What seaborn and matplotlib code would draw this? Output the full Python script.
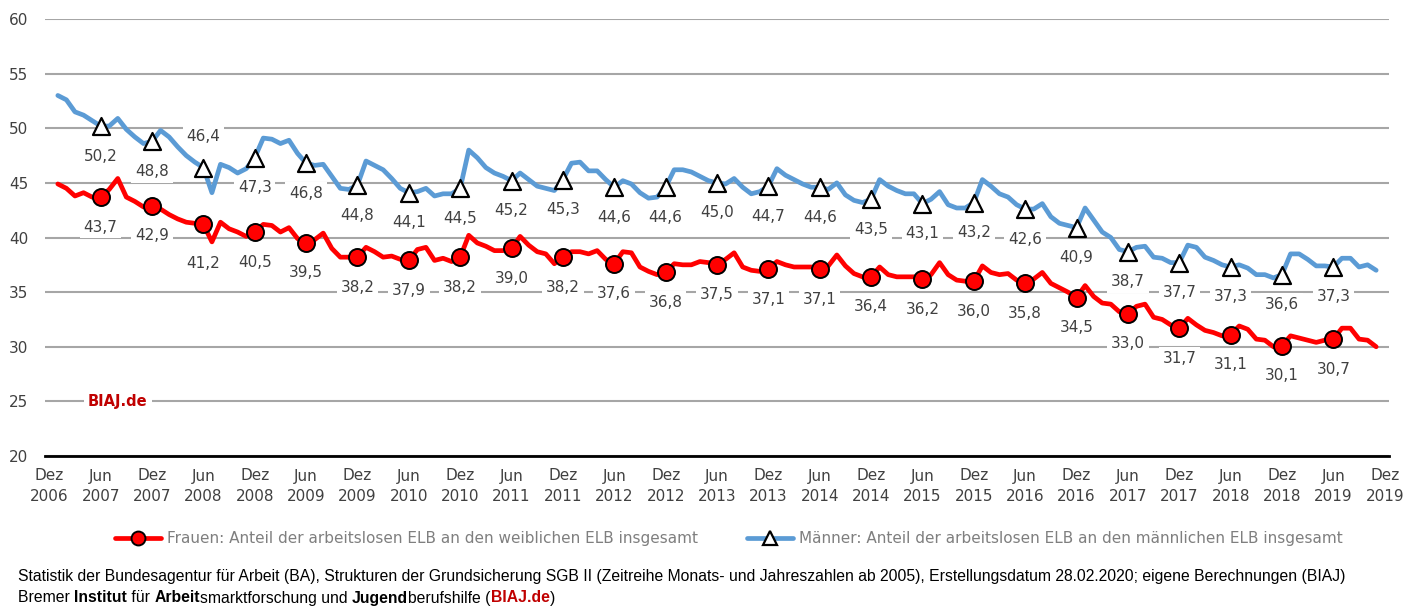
import numpy as np
import pandas as pd
import matplotlib
matplotlib.use("Agg")
import matplotlib.pyplot as plt
from matplotlib.lines import Line2D
from matplotlib.transforms import IdentityTransform
import seaborn as sns

# Monatswerte Jan 2007 .. Nov 2019 (Anteil in %)
frauen = [
    44.9, 44.5, 43.8, 44.1, 43.7, 43.7, 44.4, 45.4, 43.7, 43.3, 42.8, 42.9,
    42.6, 42.1, 41.7, 41.4, 41.3, 41.2, 39.6, 41.4, 40.8, 40.5, 40.1, 40.5,
    41.2, 41.1, 40.5, 40.9, 39.9, 39.5, 39.8, 40.4, 39.0, 38.2, 38.2, 38.2,
    39.1, 38.7, 38.2, 38.3, 38.0, 37.9, 38.9, 39.1, 37.9, 38.1, 37.8, 38.2,
    40.2, 39.5, 39.2, 38.8, 38.8, 39.0, 40.1, 39.3, 38.7, 38.5, 37.6, 38.2,
    38.7, 38.7, 38.5, 38.8, 38.0, 37.6, 38.7, 38.6, 37.3, 36.9, 36.6, 36.8,
    37.6, 37.5, 37.5, 37.8, 37.7, 37.5, 38.0, 38.6, 37.3, 37.0, 36.9, 37.1,
    37.8, 37.5, 37.3, 37.3, 37.3, 37.1, 37.4, 38.4, 37.4, 36.7, 36.4, 36.4,
    37.3, 36.6, 36.4, 36.4, 36.4, 36.2, 36.6, 37.7, 36.6, 36.1, 36.0, 36.0,
    37.4, 36.8, 36.6, 36.7, 36.1, 35.8, 36.2, 36.8, 35.8, 35.4, 35.0, 34.5,
    35.6, 34.6, 34.0, 33.9, 33.2, 33.0, 33.7, 33.9, 32.7, 32.5, 32.0, 31.7,
    32.6, 32.0, 31.5, 31.3, 31.0, 31.1, 31.9, 31.6, 30.7, 30.6, 30.0, 30.1,
    31.0, 30.8, 30.6, 30.4, 30.6, 30.7, 31.7, 31.7, 30.7, 30.6, 30.0,
]
maenner = [
    53.0, 52.6, 51.5, 51.2, 50.7, 50.2, 50.2, 50.9, 49.9, 49.2, 48.6, 48.8,
    49.8, 49.2, 48.3, 47.5, 46.9, 46.4, 44.1, 46.7, 46.4, 45.9, 46.3, 47.3,
    49.1, 49.0, 48.6, 48.9, 47.7, 46.8, 46.6, 46.7, 45.6, 44.5, 44.4, 44.8,
    47.0, 46.6, 46.2, 45.4, 44.5, 44.1, 44.2, 44.5, 43.8, 44.0, 44.0, 44.5,
    48.0, 47.3, 46.4, 45.9, 45.6, 45.2, 45.9, 45.3, 44.7, 44.5, 44.3, 45.3,
    46.8, 46.9, 46.1, 46.1, 45.3, 44.6, 45.2, 44.9, 44.1, 43.6, 43.7, 44.6,
    46.2, 46.2, 46.0, 45.6, 45.2, 45.0, 44.9, 45.4, 44.6, 44.0, 44.2, 44.7,
    46.3, 45.7, 45.3, 44.9, 44.6, 44.6, 44.4, 45.0, 43.9, 43.4, 43.2, 43.5,
    45.3, 44.7, 44.3, 44.0, 44.0, 43.1, 43.5, 44.2, 43.0, 42.7, 42.7, 43.2,
    45.3, 44.7, 44.0, 43.7, 43.0, 42.6, 42.6, 43.1, 41.9, 41.3, 41.1, 40.9,
    42.7, 41.6, 40.5, 40.0, 38.9, 38.7, 39.1, 39.2, 38.2, 38.1, 37.7, 37.7,
    39.3, 39.1, 38.2, 37.9, 37.5, 37.3, 37.5, 37.2, 36.6, 36.6, 36.3, 36.6,
    38.5, 38.5, 38.0, 37.4, 37.4, 37.3, 38.1, 38.1, 37.3, 37.5, 37.0,
]

# Werte an den Markern (Juni / Dezember, ab Jun 2007)
frauen_marker = [43.7, 42.9, 41.2, 40.5, 39.5, 38.2, 37.9, 38.2, 39.0, 38.2,
                 37.6, 36.8, 37.5, 37.1, 37.1, 36.4, 36.2, 36.0, 35.8, 34.5,
                 33.0, 31.7, 31.1, 30.1, 30.7]
maenner_marker = [50.2, 48.8, 46.4, 47.3, 46.8, 44.8, 44.1, 44.5, 45.2, 45.3,
                  44.6, 44.6, 45.0, 44.7, 44.6, 43.5, 43.1, 43.2, 42.6, 40.9,
                  38.7, 37.7, 37.3, 36.6, 37.3]

jahre = list(range(2006, 2020))
tick_labels = []
for j in jahre:
    tick_labels.append(f"Dez\n{j}")
    if j < 2019:
        tick_labels.append(f"Jun\n{j + 1}")

RED = "#ff0000"
BLUE = "#5b9bd5"
TXT = "#404040"
GRID = "#a6a6a6"

sns.set_style("white")
plt.rcParams["font.family"] = ["DejaVu Sans"]

W, H = 1422, 607
fig, ax = plt.subplots(figsize=(W / 100, H / 100), dpi=100)
fig.subplots_adjust(left=45 / W, right=1389 / W, top=1 - 19 / H, bottom=1 - 456 / H)

# Monatsindex: 0 = Dez 2006
monat = np.arange(1, len(frauen) + 1)
df = pd.DataFrame({"monat": monat, "Frauen": frauen, "Männer": maenner})

sns.lineplot(data=df, x="monat", y="Männer", ax=ax, color=BLUE, lw=3.4, zorder=3)
sns.lineplot(data=df, x="monat", y="Frauen", ax=ax, color=RED, lw=3.4, zorder=3)

mk = df[df["monat"] % 6 == 0].copy()
mk["Frauen_lbl"] = frauen_marker
mk["Männer_lbl"] = maenner_marker

sns.scatterplot(data=mk, x="monat", y="Männer", ax=ax, marker="^", s=150,
                color="white", edgecolor="black", linewidth=1.6, zorder=6)
sns.scatterplot(data=mk, x="monat", y="Frauen", ax=ax, marker="o", s=150,
                color=RED, edgecolor="black", linewidth=1.4, zorder=6)

# Datenbeschriftungen (unterhalb, einzelne verschoben)
versatz = {("m", 18): 31, ("f", 18): -39}
box = dict(boxstyle="square,pad=0.25", fc="white", ec="none")
for _, r in mk.iterrows():
    for key, col in (("m", "Männer"), ("f", "Frauen")):
        dy = versatz.get((key, int(r["monat"])), -30)
        ax.annotate(f"{r[col + '_lbl']:.1f}".replace(".", ","),
                    (r["monat"], r[col]), xytext=(0, dy),
                    textcoords="offset pixels", ha="center", va="center",
                    fontsize=11, color=TXT, bbox=box, zorder=4)

ax.text(8, 25, "BIAJ.de", color="#c00000", fontsize=10.5, fontweight="bold",
        ha="center", va="center", bbox=dict(boxstyle="square,pad=0.3", fc="white", ec="none"),
        zorder=4)

ax.set_xlim(-0.5, 156.5)
ax.set_ylim(20, 60)
ax.set_yticks(range(20, 61, 5))
ax.set_xticks(range(0, 157, 6))
ax.set_xticklabels(tick_labels)
for t in ax.get_xticklabels():
    t.set_linespacing(1.45)
ax.set_xlabel("")
ax.set_ylabel("")

ax.yaxis.grid(True, color=GRID, lw=1.5)
ax.set_axisbelow(True)
for s in ("top", "right", "left"):
    ax.spines[s].set_visible(False)
ax.spines["bottom"].set_color("black")
ax.spines["bottom"].set_linewidth(2)
ax.tick_params(axis="x", direction="in", length=6, width=1.5, color="black",
               labelsize=11, labelcolor=TXT, pad=9)
ax.tick_params(axis="y", length=0, labelsize=11, labelcolor=TXT, pad=12)

handles = [
    Line2D([], [], color=RED, lw=3.4, marker="o", ms=10, mfc=RED, mec="black", mew=1.4),
    Line2D([], [], color=BLUE, lw=3.4, marker="^", ms=10, mfc="white", mec="black", mew=1.6),
]
names = ["Frauen: Anteil der arbeitslosen ELB an den weiblichen ELB insgesamt",
         "Männer: Anteil der arbeitslosen ELB an den männlichen ELB insgesamt"]
fig.legend(handles, names, loc="center", bbox_to_anchor=(729 / W, 1 - 539 / H), ncol=2,
           frameon=False, fontsize=11, labelcolor="#7f7f7f", handlelength=3,
           handletextpad=0.4, columnspacing=3.2)

# Quellenangabe
fn = ["Liberation Sans"]
fs = 11.3
fig.text(18 / W, 1 - 576 / H, "Statistik der Bundesagentur für Arbeit (BA), Strukturen der "
         "Grundsicherung SGB II (Zeitreihe Monats- und Jahreszahlen ab 2005), "
         "Erstellungsdatum 28.02.2020; eigene Berechnungen (BIAJ)",
         fontsize=fs, family=fn, color="black", va="center", ha="left")

teile = [("Bremer ", "normal", "black"), ("Institut", "bold", "black"),
         (" für ", "normal", "black"), ("Arbeit", "bold", "black"),
         ("smarktforschung und ", "normal", "black"), ("Jugend", "bold", "black"),
         ("berufshilfe (", "normal", "black"), ("BIAJ.de", "bold", "#c00000"),
         (")", "normal", "black")]
renderer = fig.canvas.get_renderer()
xpos = 18
for s, w, c in teile:
    fig.text(xpos, H - 598, s, fontsize=fs, family=fn, fontweight=w, color=c,
             va="center", ha="left", transform=IdentityTransform())
    # Breite inkl. Leerzeichen ueber Hilfszeichen messen
    probe = fig.text(0, 0, s.replace(" ", "\u00a0") + "|", fontsize=fs, family=fn,
                     fontweight=w, transform=IdentityTransform())
    bar = fig.text(0, 0, "|", fontsize=fs, family=fn, fontweight=w,
                   transform=IdentityTransform())
    xpos += probe.get_window_extent(renderer).width - bar.get_window_extent(renderer).width
    probe.remove()
    bar.remove()

fig.savefig("out.png", dpi=100)
